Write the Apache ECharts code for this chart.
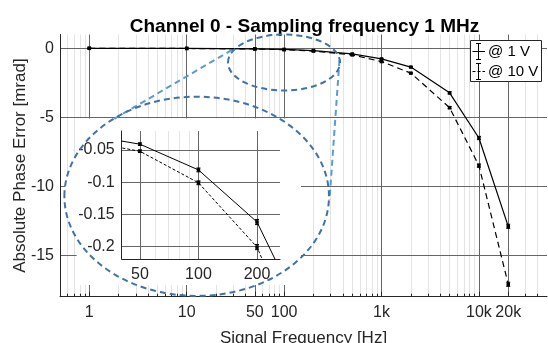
<!DOCTYPE html>
<html><head><meta charset="utf-8">
<script src="https://cdn.jsdelivr.net/npm/echarts@6/dist/echarts.min.js"></script>
<style>html,body{margin:0;padding:0;background:#fff}#c{width:548px;height:343px}</style>
</head><body><div id="c"></div>
<script>
// ---- data ----
const freq = [1, 10, 50, 100, 200, 500, 1000, 2000, 5000, 10000, 20000];
const val1V = [0, -0.005, -0.041, -0.081, -0.162, -0.41, -0.77, -1.36, -3.23, -6.5, -12.9];
const val10V = [0, -0.013, -0.052, -0.101, -0.201, -0.48, -0.96, -1.8, -4.3, -8.5, -17.1];
const err1V = [0.001, 0.001, 0.002, 0.003, 0.004, 0.01, 0.02, 0.04, 0.08, 0.12, 0.15];
const err10V = [0.001, 0.001, 0.002, 0.003, 0.004, 0.01, 0.02, 0.04, 0.08, 0.12, 0.15];
const seriesNames = ['@ 1 V', '@ 10 V'];
const xTicks = [1, 10, 50, 100, 1000, 10000, 20000];
const xMinorTicks = [0.6, 0.7, 0.8, 0.9, 2, 3, 4, 5, 6, 7, 8, 9, 20, 30, 40, 60, 70, 80, 90,
  200, 300, 400, 500, 600, 700, 800, 900, 2000, 3000, 4000, 5000, 6000, 7000, 8000, 9000, 30000, 40000];
const yTicks = [-15, -10, -5, 0];
const insetXTicks = [50, 100, 200];
const insetXMinor = [60, 70, 80, 90];
const insetYTicks = [-0.2, -0.15, -0.1, -0.05];
const titleText = 'Channel 0 - Sampling frequency 1 MHz';
const xName = 'Signal Frequency [Hz]';
const yName = 'Absolute Phase Error [mrad]';

// ---- styles ----
const FONT = '"Liberation Sans", Arial, Helvetica, sans-serif';
const TXT = '#262626';
const MAJ = '#666666';
const MIN = '#e4e4e4';
const DARKBLUE = '#3f72aa';
const LIGHTBLUE = '#5b9bd5';

const lineData = vals => freq.map((f, i) => [f, vals[i]]);
const errData = (vals, errs) => freq.map((f, i) => [f, vals[i], errs[i]]);
const kfmt = v => v >= 1000 ? (v / 1000) + 'k' : String(v);

function errRender(params, api) {
  const x = api.value(0), y = api.value(1), e = api.value(2);
  const lo = api.coord([x, y - e]), hi = api.coord([x, y + e]);
  const w = 2;
  const st = { stroke: '#000', lineWidth: 1 };
  return { type: 'group', children: [
    { type: 'line', shape: { x1: lo[0], y1: lo[1], x2: hi[0], y2: hi[1] }, style: st },
    { type: 'line', shape: { x1: lo[0] - w, y1: lo[1], x2: lo[0] + w, y2: lo[1] }, style: st },
    { type: 'line', shape: { x1: hi[0] - w, y1: hi[1], x2: hi[0] + w, y2: hi[1] }, style: st }
  ]};
}

// ---- decoration geometry (annotation shapes) ----
const smallE = { cx: 284, cy: 62.5, rx: 56, ry: 28 };
const bigE = { cx: 196.7, cy: 196.3, rx: 132.3, ry: 99.6 };
const mask = { x0: 76.7, x1: 301, y0: 118.5, y1: 285 };
function maskPoints() {
  const pts = [[mask.x1, mask.y1], [mask.x0, mask.y1]];
  const c = (mask.x0 - bigE.cx) / bigE.rx;
  const s = Math.sqrt(1 - c * c);
  const tLow = Math.atan2(s, c);
  const tHigh = 2 * Math.PI - tLow;
  const n = 40;
  for (let i = 0; i <= n; i++) {
    const t = tLow + (tHigh - tLow) * i / n;
    pts.push([bigE.cx + bigE.rx * Math.cos(t), bigE.cy + bigE.ry * Math.sin(t)]);
  }
  pts.push([mask.x0, mask.y0], [mask.x1, mask.y0]);
  return pts;
}

function ibeam(x, yc, half, dashed) {
  const st = { stroke: '#000', lineWidth: 1 };
  return [
    { type: 'line', z: 31, shape: { x1: x - 6, y1: yc, x2: x + 6.5, y2: yc }, style: Object.assign({}, st, dashed ? { lineDash: [3, 2] } : {}) },
    { type: 'line', z: 31, shape: { x1: x, y1: yc - half, x2: x, y2: yc + half }, style: st },
    { type: 'line', z: 31, shape: { x1: x - 2.5, y1: yc - half, x2: x + 2.5, y2: yc - half }, style: st },
    { type: 'line', z: 31, shape: { x1: x - 2.5, y1: yc + half, x2: x + 2.5, y2: yc + half }, style: st }
  ];
}

const chart = echarts.init(document.getElementById('c'), null, { renderer: 'canvas' });
const option = {
  animation: false,
  backgroundColor: '#fff',
  textStyle: { fontFamily: FONT },
  title: {
    text: titleText, left: 299.5, top: 12, textAlign: 'center',
    textStyle: { fontSize: 19, fontWeight: 'bold', color: '#000', fontFamily: FONT }
  },
  grid: [
    { left: 60, width: 487, top: 34.5, height: 262.2, outerBoundsMode: 'none', containLabel: false },
    { left: 121.7, width: 158.3, top: 131, height: 128, outerBoundsMode: 'none', containLabel: false }
  ],
  xAxis: [
    {
      gridIndex: 0, type: 'log', logBase: 10, min: 0.5, max: 50000, position: 'bottom', z: 2,
      axisLine: { show: true, onZero: false, lineStyle: { color: TXT, width: 1 } },
      axisTick: { show: true, inside: true, length: 5, customValues: xTicks, lineStyle: { color: TXT } },
      axisLabel: { customValues: xTicks, formatter: kfmt, fontSize: 16, color: TXT, margin: 8, fontFamily: FONT },
      splitLine: { show: true, lineStyle: { color: MAJ, width: 1 } },
      name: xName, nameLocation: 'middle', nameGap: 33, nameMoveOverlap: false,
      nameTextStyle: { fontSize: 17, color: TXT, fontFamily: FONT }
    },
    {
      gridIndex: 0, type: 'log', logBase: 10, min: 0.5, max: 50000, position: 'bottom', z: 1,
      axisLine: { show: false, onZero: false },
      axisTick: { show: true, inside: true, length: 3, customValues: xMinorTicks, lineStyle: { color: TXT } },
      axisLabel: { show: false },
      splitLine: { show: true, lineStyle: { color: MIN, width: 1 } }
    },
    {
      gridIndex: 1, type: 'log', logBase: 10, min: 40.3, max: 262.6, position: 'bottom', z: 11,
      axisLine: { show: true, onZero: false, lineStyle: { color: TXT, width: 1 } },
      axisTick: { show: false, customValues: insetXTicks },
      axisLabel: { customValues: insetXTicks, fontSize: 16, color: TXT, margin: 8, fontFamily: FONT },
      splitLine: { show: true, lineStyle: { color: MAJ, width: 1 } }
    },
    {
      gridIndex: 1, type: 'log', logBase: 10, min: 40.3, max: 262.6, position: 'bottom', z: 10,
      axisLine: { show: false, onZero: false },
      axisTick: { show: false, customValues: insetXMinor },
      axisLabel: { show: false },
      splitLine: { show: true, lineStyle: { color: MIN, width: 1 } }
    }
  ],
  yAxis: [
    {
      gridIndex: 0, type: 'value', min: -18, max: 1, z: 2,
      axisLine: { show: true, onZero: false, lineStyle: { color: TXT, width: 1 } },
      axisTick: { show: false, customValues: yTicks },
      axisLabel: { customValues: yTicks, fontSize: 16, color: TXT, margin: 6, fontFamily: FONT },
      splitLine: { show: true, lineStyle: { color: MAJ, width: 1 } },
      name: yName, nameLocation: 'middle', nameGap: 31, nameMoveOverlap: false,
      nameTextStyle: { fontSize: 17, color: TXT, fontFamily: FONT }
    },
    {
      gridIndex: 1, type: 'value', min: -0.2195, max: -0.0205, z: 11,
      axisLine: { show: true, onZero: false, lineStyle: { color: TXT, width: 1 } },
      axisTick: { show: false, customValues: insetYTicks },
      axisLabel: { customValues: insetYTicks, fontSize: 16, color: TXT, margin: 7, fontFamily: FONT },
      splitLine: { show: true, lineStyle: { color: MAJ, width: 1 } }
    }
  ],
  series: [
    { name: seriesNames[0], type: 'line', xAxisIndex: 0, yAxisIndex: 0, z: 3, data: lineData(val1V),
      symbol: 'rect', symbolSize: 3.5, showAllSymbol: true, itemStyle: { color: '#000' },
      lineStyle: { color: '#000', width: 1.2 } },
    { name: seriesNames[1], type: 'line', xAxisIndex: 0, yAxisIndex: 0, z: 3, data: lineData(val10V),
      symbol: 'rect', symbolSize: 3.5, showAllSymbol: true, itemStyle: { color: '#000' },
      lineStyle: { color: '#000', width: 1.2, type: [6, 4] } },
    { name: seriesNames[0], type: 'custom', xAxisIndex: 0, yAxisIndex: 0, z: 4, clip: true,
      data: errData(val1V, err1V), renderItem: errRender, encode: { x: 0, y: 1 } },
    { name: seriesNames[1], type: 'custom', xAxisIndex: 0, yAxisIndex: 0, z: 4, clip: true,
      data: errData(val10V, err10V), renderItem: errRender, encode: { x: 0, y: 1 } },
    { name: seriesNames[0], type: 'line', xAxisIndex: 2, yAxisIndex: 1, z: 12, data: lineData(val1V), clip: true,
      symbol: 'rect', symbolSize: 3.5, showAllSymbol: true, itemStyle: { color: '#000' },
      lineStyle: { color: '#000', width: 1 } },
    { name: seriesNames[1], type: 'line', xAxisIndex: 2, yAxisIndex: 1, z: 12, data: lineData(val10V), clip: true,
      symbol: 'rect', symbolSize: 3.5, showAllSymbol: true, itemStyle: { color: '#000' },
      lineStyle: { color: '#000', width: 1, type: [3, 2] } },
    { name: seriesNames[0], type: 'custom', xAxisIndex: 2, yAxisIndex: 1, z: 13, clip: true,
      data: errData(val1V, err1V), renderItem: errRender, encode: { x: 0, y: 1 } },
    { name: seriesNames[1], type: 'custom', xAxisIndex: 2, yAxisIndex: 1, z: 13, clip: true,
      data: errData(val10V, err10V), renderItem: errRender, encode: { x: 0, y: 1 } }
  ],
  graphic: [
    { type: 'polygon', z: 5, shape: { points: maskPoints() }, style: { fill: '#fff' }, silent: true },
    { type: 'line', z: 19, shape: { x1: 231.7, y1: 50, x2: 114, y2: 119 },
      style: { stroke: LIGHTBLUE, lineWidth: 2, lineDash: [6, 4] } },
    { type: 'line', z: 19, shape: { x1: 339.5, y1: 60, x2: 329.5, y2: 200 },
      style: { stroke: LIGHTBLUE, lineWidth: 2, lineDash: [6, 4] } },
    { type: 'ellipse', z: 20, shape: smallE, style: { fill: 'none', stroke: DARKBLUE, lineWidth: 2, lineDash: [6, 4] } },
    { type: 'ellipse', z: 20, shape: bigE, style: { fill: 'none', stroke: DARKBLUE, lineWidth: 2, lineDash: [6, 4] } },
    { type: 'rect', z: 30, shape: { x: 470.5, y: 40.5, width: 71, height: 41 },
      style: { fill: '#fff', stroke: TXT, lineWidth: 1 } },
    ...ibeam(478.5, 51.5, 8, false),
    ...ibeam(478.5, 71.5, 8, true),
    { type: 'text', z: 31, x: 488, y: 51.5, style: { text: seriesNames[0], fontSize: 15, fill: '#000', fontFamily: FONT, verticalAlign: 'middle' } },
    { type: 'text', z: 31, x: 488, y: 71.5, style: { text: seriesNames[1], fontSize: 15, fill: '#000', fontFamily: FONT, verticalAlign: 'middle' } }
  ]
};
chart.setOption(option);
</script>
</body></html>
